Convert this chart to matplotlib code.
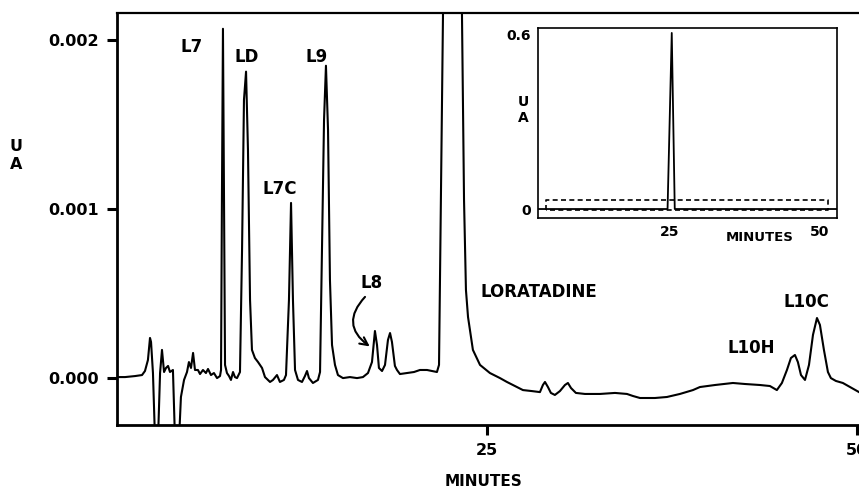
import numpy as np
import matplotlib
matplotlib.use("Agg")
import matplotlib.pyplot as plt
from matplotlib.patches import FancyArrowPatch

plt.rcParams['font.family'] = ['DejaVu Sans']
plt.rcParams['font.weight'] = 'bold'

# main chromatogram trace (minutes, milli-AU)
time_min = [
    0.00, 0.54, 1.22, 1.69, 1.89, 2.09, 2.23, 2.30, 2.43, 2.57, 2.77, 2.91,
    3.04, 3.18, 3.31, 3.45, 3.58, 3.78, 3.92, 4.19, 4.32, 4.53, 4.73, 4.86,
    5.00, 5.14, 5.27, 5.47, 5.61, 5.81, 6.01, 6.15, 6.35, 6.55, 6.76, 6.96,
    7.03, 7.09, 7.16, 7.23, 7.30, 7.43, 7.57, 7.70, 7.84, 7.97, 8.11, 8.31,
    8.45, 8.58, 8.72, 8.85, 8.99, 9.12, 9.32, 9.53, 9.80, 10.00, 10.34, 10.54,
    10.81, 11.01, 11.28, 11.42, 11.62, 11.76, 11.89, 12.03, 12.23, 12.50, 12.70, 12.84,
    12.97, 13.24, 13.58, 13.72, 13.85, 13.99, 14.12, 14.26, 14.39, 14.53, 14.73, 14.93,
    15.27, 15.74, 16.22, 16.62, 16.96, 17.23, 17.43, 17.57, 17.70, 17.91, 18.11, 18.31,
    18.45, 18.58, 18.78, 18.92, 19.12, 19.59, 20.07, 20.47, 20.95, 21.28, 21.62, 21.76,
    21.89, 22.03, 22.70, 23.31, 23.45, 23.58, 23.72, 24.05, 24.53, 25.20, 25.88, 26.35,
    26.89, 27.43, 28.04, 28.58, 28.78, 28.92, 29.12, 29.32, 29.59, 29.93, 30.27, 30.47,
    30.68, 31.01, 31.62, 32.64, 33.65, 34.46, 34.86, 35.34, 36.35, 37.16, 38.04, 38.92,
    39.39, 40.41, 41.62, 42.43, 43.45, 44.12, 44.59, 44.93, 45.27, 45.54, 45.81, 46.01,
    46.22, 46.49, 46.76, 47.03, 47.30, 47.50, 47.77, 48.04, 48.24, 48.58, 49.05, 49.53,
    50.14,
]
absorbance_mau = [
    0.005, 0.005, 0.011, 0.017, 0.041, 0.106, 0.237, 0.213, 0.029, -0.368, -0.368, 0.029,
    0.166, 0.035, 0.059, 0.071, 0.035, 0.047, -0.368, -0.368, -0.113, -0.012, 0.035, 0.094,
    0.059, 0.148, 0.047, 0.047, 0.023, 0.047, 0.029, 0.053, 0.017, 0.029, -0.001, 0.011,
    0.047, 1.055, 2.069, 1.055, 0.077, 0.029, 0.011, -0.012, 0.035, 0.005, -0.001, 0.035,
    0.759, 1.648, 1.815, 1.352, 0.462, 0.166, 0.118, 0.094, 0.059, 0.005, -0.024, -0.012,
    0.017, -0.024, -0.012, 0.017, 0.462, 1.037, 0.462, 0.047, -0.012, -0.024, 0.011, 0.041,
    -0.001, -0.030, -0.012, 0.035, 0.759, 1.529, 1.850, 1.470, 0.581, 0.195, 0.077, 0.017,
    -0.001, 0.005, -0.001, 0.005, 0.029, 0.094, 0.278, 0.195, 0.059, 0.041, 0.077, 0.225,
    0.266, 0.213, 0.071, 0.047, 0.023, 0.029, 0.035, 0.047, 0.047, 0.041, 0.035, 0.077,
    1.055, 2.164, 620.0, 2.164, 1.055, 0.521, 0.361, 0.166, 0.077, 0.029, -0.001, -0.024,
    -0.048, -0.072, -0.078, -0.084, -0.042, -0.024, -0.054, -0.089, -0.101, -0.078, -0.042, -0.030,
    -0.060, -0.089, -0.095, -0.095, -0.089, -0.095, -0.107, -0.119, -0.119, -0.113, -0.095, -0.072,
    -0.054, -0.042, -0.030, -0.036, -0.042, -0.048, -0.072, -0.030, 0.047, 0.118, 0.136, 0.094,
    0.017, -0.012, 0.077, 0.255, 0.355, 0.314, 0.166, 0.035, -0.001, -0.018, -0.030, -0.054,
    -0.084,
]

y_ticks = [0.0, 0.001, 0.002]
y_tick_labels = ['0.000', '0.001', '0.002']
x_ticks = [25, 50]

# peak labels: (text, minutes, AU)
peak_labels = ['L7', 'LD', 'L7C', 'L9', 'L8', 'LORATADINE', 'L10H', 'L10C']
peak_label_t = [5.05, 8.76, 11.01, 13.49, 17.21, 28.51, 42.89, 46.62]
peak_label_a = [0.00196, 0.00190, 0.00112, 0.00190, 0.00056, 0.00051, 0.00018, 0.00045]

# inset: full scale chromatogram
inset_time = [3.0, 24.6, 25.3, 25.8, 52.9]
inset_abs = [0.0, 0.0, 0.607, 0.0, 0.0]
inset_y_ticks = [0, 0.6]
inset_y_labels = ['0', '0.6']
inset_x_ticks = [25, 50]
zoom_box_t = [4.3, 51.3]
zoom_box_a = [-0.004, 0.031]

fig = plt.figure(figsize=(8.59, 4.91), dpi=100)
ax = fig.add_axes([117 / 859, 1 - 425 / 491, 1 - 117 / 859, (425 - 13) / 491])

absorbance = np.array(absorbance_mau) / 1000.0
ax.plot(time_min, absorbance, color='black', lw=1.5, solid_joinstyle='round')
ax.set_xlim(0, 50.14)
ax.set_ylim(-0.000279, 0.0021625)

ax.set_yticks(y_ticks)
ax.set_yticklabels(y_tick_labels)
ax.set_xticks(x_ticks)
ax.set_xticklabels([str(v) for v in x_ticks])
ax.tick_params(axis='both', direction='out', length=7, width=2.2, labelsize=11.5)
ax.tick_params(axis='y', pad=6)
ax.tick_params(axis='x', pad=6)
ax.spines['right'].set_visible(False)
for s in ['left', 'bottom']:
    ax.spines[s].set_linewidth(2.0)
ax.spines['top'].set_linewidth(1.6)

for lbl, t, a in zip(peak_labels, peak_label_t, peak_label_a):
    ax.text(t, a, lbl, ha='center', va='center', fontsize=12, fontweight='bold')

arrow = FancyArrowPatch((16.89, 0.000492), (17.23, 0.000177),
                        connectionstyle='arc3,rad=0.6', arrowstyle='->',
                        mutation_scale=14, lw=1.5, color='black')
ax.add_patch(arrow)

fig.text(16 / 859, 1 - 156 / 491, 'U\nA', ha='center', va='center',
         fontsize=11.5, fontweight='bold', linespacing=1.25)
fig.text(484 / 859, 1 - 481 / 491, 'MINUTES', ha='center', va='center',
         fontsize=11, fontweight='bold')

# inset
axi = fig.add_axes([538.3 / 859, 1 - 218.3 / 491, 299 / 859, 190 / 491])
axi.plot(inset_time, inset_abs, color='black', lw=1.3)
axi.plot([zoom_box_t[0], zoom_box_t[0], zoom_box_t[1], zoom_box_t[1], zoom_box_t[0]],
         [zoom_box_a[0], zoom_box_a[1], zoom_box_a[1], zoom_box_a[0], zoom_box_a[0]],
         color='black', lw=1.2, ls=(0, (3, 2)))
axi.set_xlim(3.05, 52.9)
axi.set_ylim(-0.032, 0.623)
axi.set_yticks(inset_y_ticks)
axi.set_yticklabels(inset_y_labels)
axi.set_xticks(inset_x_ticks)
axi.set_xticklabels([str(v) for v in inset_x_ticks])
axi.tick_params(axis='both', length=0, labelsize=10, pad=5)
for s in axi.spines.values():
    s.set_linewidth(1.2)
fig.text(523 / 859, 1 - 110 / 491, 'U\nA', ha='center', va='center',
         fontsize=10, fontweight='bold', linespacing=1.2)
fig.text(760 / 859, 1 - 238 / 491, 'MINUTES', ha='center', va='center',
         fontsize=9.5, fontweight='bold')

fig.savefig('out.png', dpi=100)
